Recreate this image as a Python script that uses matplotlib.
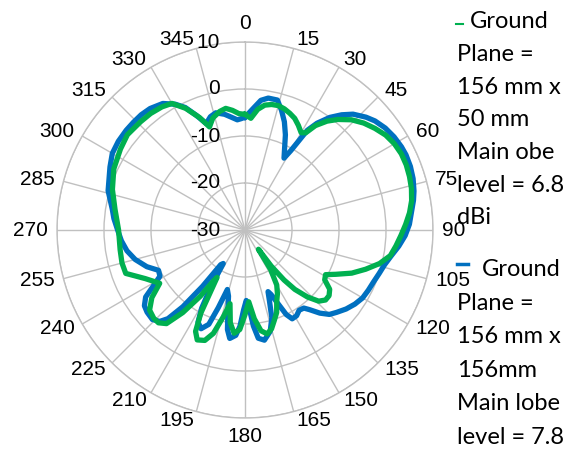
import numpy as np
import matplotlib
matplotlib.use('Agg')
import matplotlib.pyplot as plt
from matplotlib.lines import Line2D

# angles (deg, clockwise from top) and gain (dBi)
blue_ang = [0, 4, 7, 10, 14, 17, 20, 23, 26, 28.5, 30, 32, 34, 37, 40, 43, 47, 50, 54, 58,
            62, 65, 69, 73, 77, 80, 84, 88, 92, 96, 100, 104, 108, 112, 116, 120, 124, 128,
            132, 135, 138, 141, 143, 146, 149, 152, 154, 156, 158, 159.5, 161, 163, 166, 170,
            173, 175, 177, 179, 181, 183, 185, 188, 190, 192, 194, 196.5, 199, 201, 204, 207,
            209, 211, 213, 215, 217, 219, 221, 223, 226, 230, 233, 236, 239, 241.5, 245, 249.5,
            255, 260, 265, 270, 275, 279, 286, 295, 300, 305, 310, 314, 318, 322,
            327, 331, 334, 337, 340, 343, 346, 350, 353, 356, 358]
blue_db = [-6.0, -4.0, -2.2, -1.5, -1.5, -3.4, -5.5, -8.0, -10.8, -12.6, -10.5, -5.0, -2.6,
           0.0, 2.0, 3.7, 5.2, 6.1, 6.9, 7.4, 7.7, 7.8, 7.7, 7.4, 6.9, 6.4, 5.6, 5.0, 4.1, 2.9,
           1.6, 0.6, 0.0, -0.5, -0.8, -1.1, -1.8, -2.7, -3.8, -4.6, -6.2, -8.2, -9.2, -9.4,
           -8.7, -8.6, -10.0, -13.0, -15.2, -16.0, -14.0, -10.5, -7.8, -6.2, -6.8, -9.5, -13.5,
           -15.0, -13.0, -9.5, -7.5, -6.7, -8.5, -12.5, -15.5, -16.8, -12.5, -8.5, -7.0, -8.0,
           -11.0, -16.0, -21.5, -21.0, -15.0, -9.0, -5.0, -3.4, -2.6, -2.8, -3.2, -4.5, -7.5,
           -9.4, -9.7, -7.7, -5.8, -4.5, -3.6, -2.9, -2.0, -1.4, 0.3, 1.7, 2.6, 2.9,
           3.0, 3.0, 3.0, 2.8, 2.1, 0.6, -1.0, -3.5, -5.9, -4.8, -4.3, -5.0, -5.8, -6.5, -6.3]

green_ang = [0, 3, 6, 9, 12, 15, 18, 21, 24, 27, 30, 32, 34, 37, 40, 44, 48, 52, 56, 60, 64,
             68, 72, 76, 80, 84, 88, 92, 96, 100, 104, 108, 112, 116, 119, 122, 125, 128, 131,
             134, 137, 140, 142, 144, 145, 147, 150, 153, 156, 159, 162, 165, 168, 171, 174,
             177, 180, 183, 186, 189, 191.5, 194, 197, 200, 203.5, 206, 208, 210.5, 212, 214,
             217, 220, 223, 226, 230, 234, 238, 244, 250, 255, 261, 270, 279, 287,
             295, 303, 309, 316, 321, 326, 330, 334, 338, 341, 344, 348, 351, 354, 357]
green_db = [-5.4, -6.2, -4.2, -3.1, -2.7, -2.6, -2.9, -3.4, -4.0, -5.0, -6.1, -5.6, -3.2,
            -1.0, 0.7, 2.6, 4.0, 5.1, 6.1, 6.7, 7.0, 7.0, 6.8, 6.5, 6.0, 5.2, 4.2, 3.2, 2.3,
            1.4, -0.5, -3.0, -5.5, -8.5, -10.4, -10.0, -8.0, -7.3, -7.3, -8.2, -10.5, -13.5,
            -16.5, -20.5, -25.0, -20.0, -16.5, -14.8, -13.4, -11.2, -9.8, -8.2, -7.4, -8.3,
            -11.0, -14.7, -12.0, -8.8, -7.9, -10.0, -14.0, -11.0, -7.0, -5.0, -4.5, -6.0,
            -10.0, -18.3, -17.0, -13.0, -8.0, -4.0, -3.0, -3.0, -3.5, -5.5, -8.6, -6.4, -3.0,
            -2.9, -3.1, -3.1, -2.0, -0.5, 0.8, 1.6, 2.2, 2.0, 1.9, 1.6, 1.1, -1.2,
            -4.2, -6.8, -5.2, -4.2, -3.8, -4.4, -5.2]

theta_ticks = list(range(0, 360, 15))
r_ticks = [-30, -20, -10, 0, 10]

label_green = ["Ground", "Plane =", "156 mm x", "50 mm", "Main obe", "level = 6.8", "dBi"]
label_blue = ["Ground", "Plane =", "156 mm x", "156mm", "Main lobe", "level = 7.8"]

c_blue = '#0070C0'
c_green = '#00B050'
grid_c = '#C0C0C0'

W, H = 568, 449
fig = plt.figure(figsize=(W / 100, H / 100), dpi=100)
cx, cy, R = 245, 230, 188
ax = fig.add_axes([(cx - R) / W, 1 - (cy + R) / H, 2 * R / W, 2 * R / H], projection='polar')
ax.set_theta_zero_location('N')
ax.set_theta_direction(-1)
ax.set_ylim(-30, 10)

def closed(a, v):
    a = np.deg2rad(list(a) + [a[0] + 360])
    return a, list(v) + [v[0]]

ax.plot(*closed(blue_ang, blue_db), color=c_blue, lw=3.8, solid_joinstyle='round')
ax.plot(*closed(green_ang, green_db), color=c_green, lw=3.8, solid_joinstyle='round')

ax.set_xticks(np.deg2rad(theta_ticks))
ax.set_xticklabels([])
# angle labels placed like Excel: near edge of the text a few px outside the ring
gap = 9
for t in theta_ticks:
    s, c = np.sin(np.deg2rad(t)), np.cos(np.deg2rad(t))
    ha = 'center' if t in (0, 180) else ('left' if t < 180 else 'right')
    va = 'bottom' if t == 0 else ('top' if t == 180 else 'center')
    ax.annotate(str(t), xy=(np.deg2rad(t), 10), xytext=(gap * s, gap * c),
                textcoords='offset pixels', ha=ha, va=va, fontsize=15,
                family='Liberation Sans', annotation_clip=False)
ax.set_yticks(r_ticks)
ax.set_yticklabels([])
for r in r_ticks:
    ax.annotate(str(r), xy=(0, r), xytext=(-18, 0), textcoords='offset points',
                ha='right', va='center', fontsize=15, family='Liberation Sans')
ax.grid(True, color=grid_c, lw=1)
ax.spines['polar'].set_color(grid_c)
ax.spines['polar'].set_linewidth(1)

# legend, drawn by hand to match the wrapped text
fs = 17
lf = 'Lato'
step = 32.6
fig.text(470 / W, 1 - 22 / H, label_green[0], fontsize=fs, family=lf, va='center')
for i, s in enumerate(label_green[1:], start=1):
    fig.text(457 / W, 1 - (22 + step * i) / H, s, fontsize=fs, family=lf, va='center')
fig.add_artist(Line2D([456 / W, 463 / W], [1 - 24 / H] * 2, color=c_green, lw=1.5))

fig.text(482 / W, 1 - 270 / H, label_blue[0], fontsize=fs, family=lf, va='center')
for i, s in enumerate(label_blue[1:], start=1):
    fig.text(457 / W, 1 - (270 + 33.4 * i) / H, s, fontsize=fs, family=lf, va='center')
fig.add_artist(Line2D([457 / W, 468 / W], [1 - 264 / H] * 2, color=c_blue, lw=2.5))

fig.savefig('out.png', dpi=100)
